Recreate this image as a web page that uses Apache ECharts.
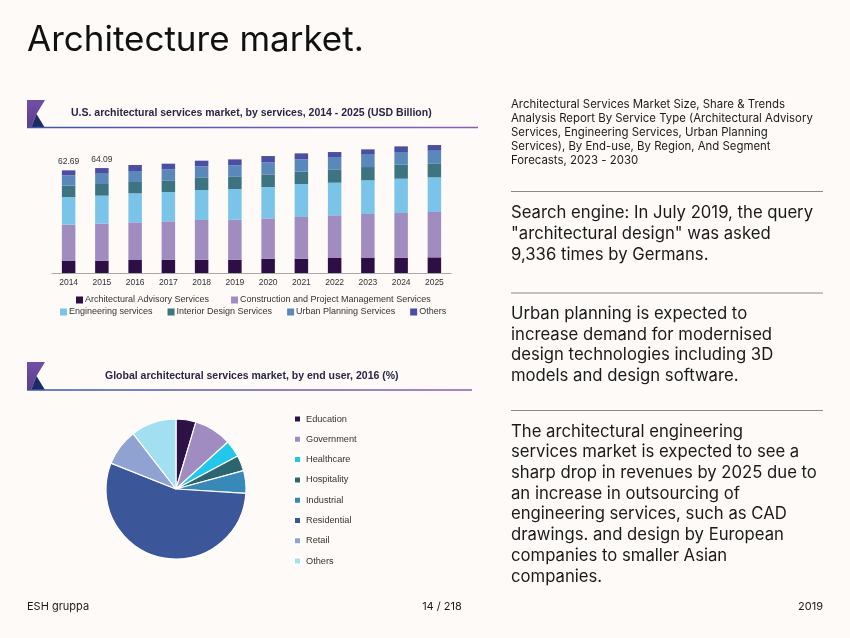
<!DOCTYPE html>
<html>
<head>
<meta charset="utf-8">
<script src="https://cdn.jsdelivr.net/npm/echarts@6/dist/echarts.min.js"></script>
<style>
html,body{margin:0;padding:0;background:#fdfaf8;}
#c{width:850px;height:638px;}
</style>
</head>
<body>
<div id="c"></div>
<script>
// ---- Bar chart data (USD Billion) ----
var years = ['2014','2015','2016','2017','2018','2019','2020','2021','2022','2023','2024','2025'];
var advisory     = [7.33, 7.53, 7.94, 8.14, 8.14, 8.14, 8.75, 8.75, 9.16, 9.16, 9.36, 9.56];
var construction = [22.18, 22.59, 23.00, 23.41, 24.22, 24.42, 24.62, 25.44, 26.05, 26.86, 27.27, 27.68];
var engineering  = [16.89, 17.10, 17.71, 17.91, 18.32, 18.72, 19.13, 20.15, 19.94, 20.55, 20.96, 21.16];
var interior     = [6.92, 7.12, 6.92, 7.12, 7.73, 7.73, 7.73, 7.53, 8.14, 8.14, 8.55, 8.55];
var urban        = [6.31, 6.31, 6.72, 6.72, 6.72, 6.72, 7.33, 7.53, 7.53, 7.53, 7.73, 7.73];
var others       = [3.06, 3.44, 3.66, 3.46, 3.46, 3.66, 3.87, 3.66, 3.05, 3.26, 3.46, 3.46];
var totalLabels  = ['62.69', '64.09', '', '', '', '', '', '', '', '', '', ''];
var serviceNames = ['Architectural Advisory Services', 'Construction and Project Management Services',
  'Engineering services', 'Interior Design Services', 'Urban Planning Services', 'Others'];

// ---- Pie chart data (%) ----
var endUsers = ['Education', 'Government', 'Healthcare', 'Hospitality', 'Industrial', 'Residential', 'Retail', 'Others'];
var endUserShares = [4.6, 8.7, 3.9, 3.6, 5.2, 55.1, 8.5, 10.5];

var barColors = ['#2d0f45', '#a08cbf', '#7ac4ea', '#3c7482', '#5a88ba', '#4a4fa3'];
var pieColors = ['#2e1145', '#a08cc0', '#22c8ec', '#2c6470', '#3888b8', '#3b5699', '#8fa2d2', '#a2e0f1'];

var chart = echarts.init(document.getElementById('c'), null, {renderer: 'canvas'});
var seriesData = [advisory, construction, engineering, interior, urban, others];
var arial = '"Liberation Sans", Arial, sans-serif';
var sans = 'Inter, "Noto Sans", sans-serif';

var barSeries = serviceNames.map(function (n, i) {
  var s = {
    name: '\u200b' + n, type: 'bar', stack: 'svc', barWidth: 13.5,
    data: seriesData[i], itemStyle: {color: barColors[i]},
    xAxisIndex: 0, yAxisIndex: 0
  };
  if (i === serviceNames.length - 1) {
    s.label = {
      show: true, position: 'top', distance: 4,
      fontFamily: arial, fontSize: 8.5, color: '#333',
      formatter: function (p) { return totalLabels[p.dataIndex]; }
    };
  }
  return s;
});

function logo(x, y) {
  return [
    {type: 'polygon', shape: {points: [[x, y], [x + 18, y], [x + 9.5, y + 14], [x + 4, y + 28], [x, y + 28]]},
      style: {fill: new echarts.graphic.LinearGradient(0, 0, 0, 1, [{offset: 0, color: '#7050a5'}, {offset: 1, color: '#5a3f8e'}])}},
    {type: 'polygon', shape: {points: [[x + 9.5, y + 14], [x + 18, y + 28], [x + 4, y + 28]]},
      style: {fill: '#1e2a66'}}
  ];
}
function underline(x1, x2, y) {
  return {type: 'line', shape: {x1: x1, y1: y, x2: x2, y2: y},
    style: {lineWidth: 1.5, stroke: new echarts.graphic.LinearGradient(0, 0, 1, 0, [{offset: 0, color: '#3a5aa6'}, {offset: 1, color: '#8a5fb6'}])}};
}
function txt(x, y, text, size, opts) {
  opts = opts || {};
  return {type: 'text', x: x, y: y, style: {
    text: text, fontSize: size, fontFamily: opts.family || sans, fontWeight: opts.weight || 'normal',
    fill: opts.fill || '#1a1a1a', lineHeight: opts.lh, align: opts.align || 'left', verticalAlign: opts.va || 'top'
  }};
}
function sep(y) {
  return {type: 'line', shape: {x1: 511, y1: y, x2: 823, y2: y}, style: {stroke: '#8a8a8a', lineWidth: 1}};
}

var graphics = [].concat(
  [txt(27, 23, 'Architecture market.', 35, {fill: '#111'})],
  logo(27, 100),
  [underline(27, 478, 127.5),
   txt(71, 113.5, 'U.S. architectural services market, by services, 2014 - 2025 (USD Billion)', 10.5, {family: arial, weight: 'bold', fill: '#2a2545', va: 'middle'})],
  logo(27, 362),
  [underline(27, 472, 390),
   txt(105, 376, 'Global architectural services market, by end user, 2016 (%)', 10.5, {family: arial, weight: 'bold', fill: '#2a2545', va: 'middle'})],
  [txt(511, 98, 'Architectural Services Market Size, Share & Trends\nAnalysis Report By Service Type (Architectural Advisory\nServices, Engineering Services, Urban Planning\nServices), By End-use, By Region, And Segment\nForecasts, 2023 - 2030', 11.4, {lh: 14}),
   sep(191.5),
   txt(511, 203, 'Search engine: In July 2019, the query\n"architectural design" was asked\n9,336 times by Germans.', 16.7, {lh: 20.7}),
   sep(293),
   txt(511, 303.7, 'Urban planning is expected to\nincrease demand for modernised\ndesign technologies including 3D\nmodels and design software.', 16.7, {lh: 20.7}),
   sep(410.5),
   txt(511, 421.3, 'The architectural engineering\nservices market is expected to see a\nsharp drop in revenues by 2025 due to\nan increase in outsourcing of\nengineering services, such as CAD\ndrawings. and design by European\ncompanies to smaller Asian\ncompanies.', 16.7, {lh: 20.7}),
   txt(27, 607, 'ESH gruppa', 11, {va: 'middle'}),
   txt(442, 607, '14 / 218', 11, {va: 'middle', align: 'center'}),
   txt(823, 607, '2019', 11, {va: 'middle', align: 'right'})]
);

var option = {
  backgroundColor: '#fdfaf8',
  animation: false,
  grid: {left: 52, width: 399, top: 142, height: 131},
  xAxis: {
    type: 'category', data: years,
    axisLine: {lineStyle: {color: '#a8a8a8', width: 1}},
    axisTick: {show: false},
    axisLabel: {fontFamily: arial, fontSize: 8.5, color: '#333', margin: 5}
  },
  yAxis: {type: 'value', min: 0, max: 80, show: false, splitLine: {show: false}},
  legend: [
    {
      data: ['\u200b' + serviceNames[0], '\u200b' + serviceNames[1]],
      left: 71, top: 290.5, itemWidth: 7, itemHeight: 7, itemGap: 22, icon: 'rect',
      textStyle: {fontFamily: arial, fontSize: 9, color: '#333', padding: [0, 0, 0, -3]}
    },
    {
      data: ['\u200b' + serviceNames[2], '\u200b' + serviceNames[3], '\u200b' + serviceNames[4], '\u200b' + serviceNames[5]],
      left: 55, top: 302.5, itemWidth: 7, itemHeight: 7, itemGap: 15, icon: 'rect',
      textStyle: {fontFamily: arial, fontSize: 9, color: '#333', padding: [0, 0, 0, -3]}
    },
    {
      data: endUsers, orient: 'vertical', left: 288, top: 408,
      itemWidth: 7, itemHeight: 7, itemGap: 8.3, icon: 'rect',
      textStyle: {fontFamily: arial, fontSize: 9.2, color: '#333', lineHeight: 12, padding: [0, 0, 0, 0]}
    }
  ],
  series: barSeries.concat([{
    type: 'pie', center: [176, 489], radius: [0, 70],
    startAngle: 90, clockwise: true,
    label: {show: false}, labelLine: {show: false},
    itemStyle: {borderColor: '#ffffff', borderWidth: 1.2},
    data: endUsers.map(function (n, i) {
      return {name: n, value: endUserShares[i], itemStyle: {color: pieColors[i]}};
    })
  }]),
  graphic: {elements: graphics}
};
chart.setOption(option);
</script>
</body>
</html>
